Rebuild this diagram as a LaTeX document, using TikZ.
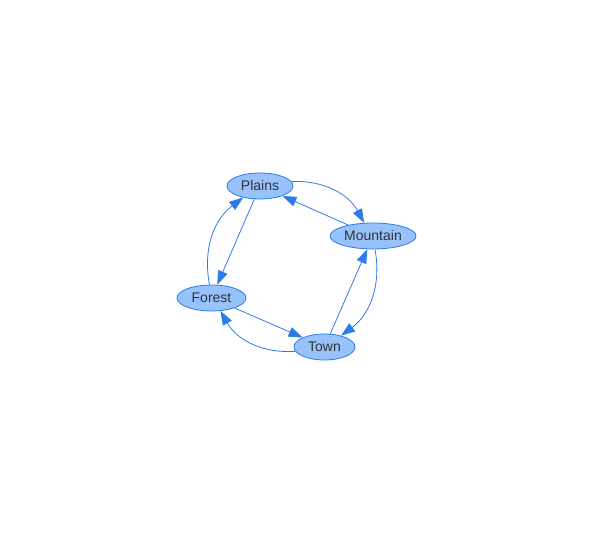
\documentclass[tikz,border=0pt]{standalone}
\usepackage{fontspec}
\setmainfont{Liberation Sans}
\usetikzlibrary{arrows.meta, shapes.geometric}

\definecolor{nodefill}{HTML}{97C2FC}
\definecolor{nodeline}{HTML}{2B7CE9}
\definecolor{labeltext}{HTML}{343434}

\begin{document}
\begin{tikzpicture}[x = 1bp, y = 1bp,
                > = {Triangle[length=14bp, width=10bp]}, % arrow head style
                line width = 0.8pt, % line style
                every edge/.style = {draw = nodeline, line width = 0.8pt}
            ]

            \useasboundingbox (0,0) rectangle (594,534);

            \tikzstyle{every node}=[draw = nodeline, fill = nodefill, ellipse,
            inner sep = 0pt, minimum height = 26bp, text = labeltext,
            font = \fontsize{14bp}{16bp}\selectfont]

            \node[minimum width = 66bp] (plains) at (260,348) {Plains};
            \node[minimum width = 86bp] (mountain) at (373,298) {Mountain};
            \node[minimum width = 69bp] (forest) at (211.5,236) {Forest};
            \node[minimum width = 61bp] (town) at (324.5,187) {Town};

            % curved, going round clockwise
            \path[->] (plains) edge[bend left = 32] (mountain);
            \path[->] (mountain) edge[bend left = 32] (town);
            \path[->] (town) edge[bend left = 32] (forest);
            \path[->] (forest) edge[bend left = 32] (plains);

            % straight, going back
            \path[->] (mountain) edge (plains); \path[->] (town) edge
            (mountain); \path[->] (forest) edge (town); \path[->] (plains) edge
            (forest);
        \end{tikzpicture}
\end{document}
